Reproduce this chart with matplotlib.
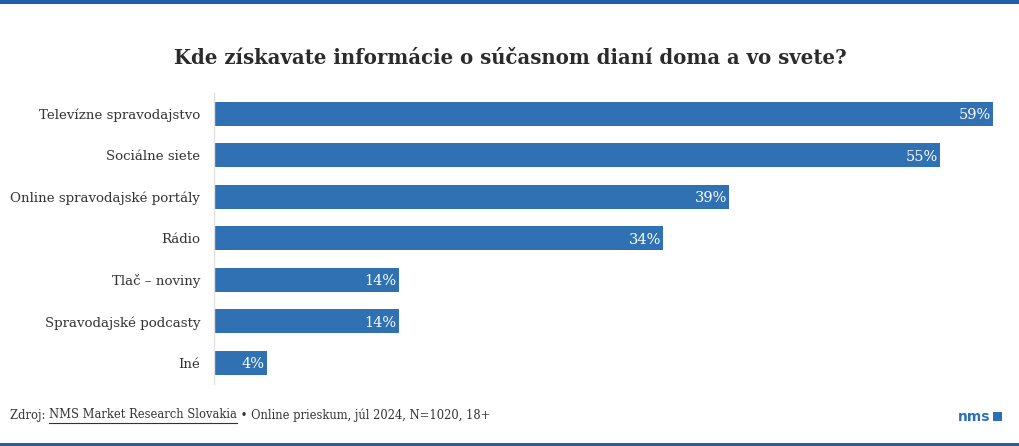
import matplotlib
matplotlib.use('Agg')
import matplotlib.pyplot as plt
from matplotlib.patches import Rectangle
from matplotlib.lines import Line2D

# Data
categories = ['Televízne spravodajstvo', 'Sociálne siete', 'Online spravodajské portály',
              'Rádio', 'Tlač – noviny', 'Spravodajské podcasty', 'Iné']
values = [59, 55, 39, 34, 14, 14, 4]

title = 'Kde získavate informácie o súčasnom dianí doma a vo svete?'
source_prefix = 'Zdroj: '
source_link = 'NMS Market Research Slovakia'
source_rest = ' • Online prieskum, júl 2024, N=1020, 18+'

bar_color = '#2f71b3'
text_color = '#333333'
serif = ['DejaVu Serif']

W, H = 1020, 446
fig = plt.figure(figsize=(W / 100, H / 100), dpi=100)
fig.patch.set_facecolor('white')

# Top and bottom brand lines
fig.add_artist(Rectangle((0, 1 - 4 / H), 1, 4 / H, transform=fig.transFigure, color='#1f5fa8', lw=0))
fig.add_artist(Rectangle((0, 0), 1, 3 / H, transform=fig.transFigure, color='#2a5f95', lw=0))

# Axes placement in pixels
left, right, top, bottom = 214, 993, 93, 383.5
ax = fig.add_axes([left / W, 1 - bottom / H, (right - left) / W, (bottom - top) / H])
ypos = list(range(len(categories)))
ax.barh(ypos, values, height=0.58, color=bar_color)
ax.set_xlim(0, max(values))
ax.set_ylim(len(categories) - 0.5, -0.5)
ax.set_yticks(ypos)
ax.set_yticklabels(categories, fontsize=9.6, color=text_color, family=serif)
ax.tick_params(axis='y', length=0, pad=10)
for lab in ax.get_yticklabels():
    lab.set_va('center_baseline')
ax.set_xticks([])
for s in ['top', 'right', 'bottom']:
    ax.spines[s].set_visible(False)
ax.spines['left'].set_color('#e3e3e3')
ax.spines['left'].set_linewidth(1)

for y, v in zip(ypos, values):
    ax.text(v - 0.15, y, f'{v}%', ha='right', va='center_baseline', color='white',
            fontsize=10.5, family=serif)

# Title
fig.text(0.5, 1 - 58 / H, title, ha='center', va='center', fontsize=14.2, fontweight='bold',
         color='#2b2b2b', family=serif)

# Footer with underlined link
fig.canvas.draw()
renderer = fig.canvas.get_renderer()
fy = 1 - 415 / H
x = 10 / W
pieces = [source_prefix, source_link, source_rest]
for i, txt in enumerate(pieces):
    t = fig.text(x, fy, txt, ha='left', va='center', fontsize=8.3, color=text_color, family=serif)
    bb = t.get_window_extent(renderer)
    if i == 1:
        uy = 1 - 423 / H
        fig.add_artist(Line2D([bb.x0 / W, bb.x1 / W], [uy, uy], transform=fig.transFigure,
                              color=text_color, lw=0.8))
    x = bb.x1 / W

# nms logo
fig.text(990 / W, 1 - 417 / H, 'nms', ha='right', va='center', fontsize=10, fontweight='bold',
         color='#2a6fb8', family=['DejaVu Sans'])
fig.add_artist(Rectangle((993 / W, 1 - 421 / H), 9 / W, 9 / H, transform=fig.transFigure,
                         color='#2a6fb8', lw=0))

fig.savefig('out.png', dpi=100, facecolor='white')
